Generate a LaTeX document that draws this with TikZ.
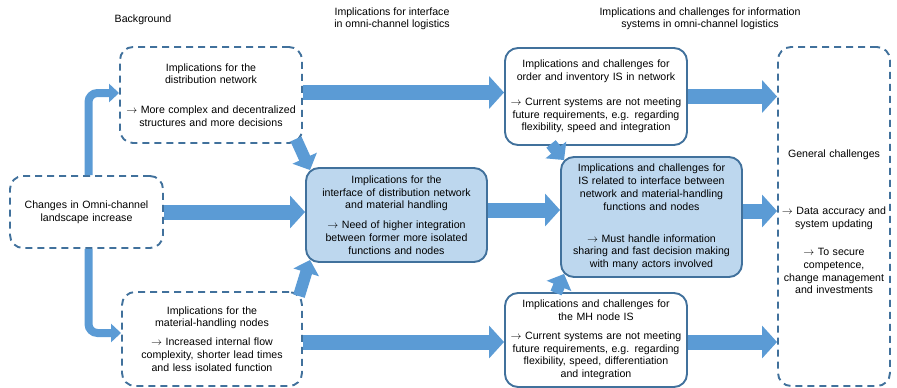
\documentclass[tikz,border=0pt]{standalone}
\usepackage{fontspec}
\setmainfont{Liberation Sans}
\usetikzlibrary{arrows.meta}
\definecolor{edgeblue}{HTML}{41719C}
\definecolor{flowblue}{HTML}{5B9BD5}
\definecolor{paleblue}{HTML}{BDD7EE}
\tikzset{
  box/.style={draw=edgeblue, line width=1.9pt, rounded corners=13pt, inner sep=0pt,
    align=center, font=\fontsize{10.6}{12.8}\selectfont},
  dashbox/.style={box, dash pattern=on 7pt off 5pt},
  heading/.style={align=center, font=\fontsize{10.6}{12}\selectfont},
  flow/.style={draw=flowblue, line width=15pt, -{Triangle[length=15pt,width=32pt]}},
  slant/.style={draw=flowblue, line width=12pt, -{Triangle[length=13pt,width=26pt]}},
  bent/.style={draw=flowblue, line width=8pt, rounded corners=9pt, -{Triangle[length=10pt,width=18pt]}}
}
\begin{document}
\begin{tikzpicture}[x=1pt, y=-1pt]
                \useasboundingbox (0,0) rectangle (897,388);
                % column headings
                \node[heading] (bgHead) at (143,20) {Background};
                \node[heading] (ifHead) at (392,19) {Implications for interface\\in omni-channel logistics};
                \node[heading] (isHead) at (700,19) {Implications and challenges for information\\systems in omni-channel logistics};

                % background
                \node[dashbox, minimum width=153pt, minimum height=72pt, text width=150pt] (change) at (86.5,212)
                    {Changes in Omni-channel\\landscape increase};
                \node[dashbox, minimum width=182pt, minimum height=96pt, text width=178pt] (dist) at (211,95)
                    {Implications for the\\distribution network\\[17pt]
                     $\rightarrow$ More complex and decentralized\\structures and more decisions};
                \node[dashbox, minimum width=180pt, minimum height=94pt, text width=178pt] (mh) at (212,339)
                    {Implications for the\\material-handling nodes\\[6pt]
                     $\rightarrow$ Increased internal flow\\complexity, shorter lead times\\and less isolated function};

                % interface
                \node[box, fill=paleblue, minimum width=181pt, minimum height=94pt, text width=178pt] (iface) at (396.5,215)
                    {Implications for the\\interface of distribution network\\and material handling\\[7pt]
                     $\rightarrow$ Need of higher integration\\between former more isolated\\functions and nodes};

                % information systems
                \node[box, fill=white, minimum width=182pt, minimum height=97pt, text width=178pt] (orderIS) at (596,96.5)
                    {Implications and challenges for\\order and inventory IS in network\\[12pt]
                     $\rightarrow$ Current systems are not meeting\\future requirements, e.g. regarding\\flexibility, speed and integration};
                \node[box, fill=paleblue, minimum width=181pt, minimum height=120pt, text width=178pt] (isIface) at (651.5,217)
                    {Implications and challenges for\\IS related to interface between\\network and material-handling\\functions and nodes\\[19pt]
                     $\rightarrow$ Must handle information\\sharing and fast decision making\\with many actors involved};
                \node[box, fill=white, minimum width=182pt, minimum height=94pt, text width=178pt] (mhIS) at (596,340)
                    {Implications and challenges for\\the MH node IS\\[6pt]
                     $\rightarrow$ Current systems are not meeting\\future requirements, e.g. regarding\\flexibility, speed, differentiation\\and integration};
                \node[dashbox, minimum width=112pt, minimum height=339pt, text width=110pt] (general) at (834,216.5)
                    {\rule{0pt}{18pt}General challenges\\[45pt]
                     $\rightarrow$ Data accuracy and\\system updating\\[15pt]
                     $\rightarrow$ To secure\\competence,\\change management\\and investments};

                % flows
                \draw[bent] ([xshift=2pt]change.north) |- ([yshift=2pt]dist.west);
                \draw[bent] ([xshift=2pt]change.south) |- ([yshift=6pt]mh.west);
                \draw[flow] (change.east) -- (change.east -| iface.west);
                \draw[flow] ([yshift=2.5pt]dist.east) -- ([yshift=2.5pt]dist.east -| orderIS.west);
                \draw[flow] ([yshift=-3pt]mh.east) -- ([yshift=-3pt]mh.east -| mhIS.west);
                \draw[flow] ([yshift=5pt]iface.east) -- ([yshift=5pt]iface.east -| isIface.west);
                \draw[flow] (orderIS.east) -- (orderIS.east -| general.west);
                \draw[flow] ([yshift=6pt]isIface.east) -- ([yshift=6pt]isIface.east -| general.west);
                \draw[flow] ([yshift=-2pt]mhIS.east) -- ([yshift=-2pt]mhIS.east -| general.west);

                \draw[slant] ([shift={(-7pt,5pt)}]dist.south east) -- ([shift={(5pt,-3pt)}]iface.north west);
                \draw[slant] ([shift={(-4pt,-5pt)}]mh.north east) -- ([shift={(5pt,3pt)}]iface.south west);
                \draw[slant] ([shift={(47pt,2pt)}]orderIS.south west) -- ([shift={(4pt,-4pt)}]isIface.north west);
                \draw[slant] ([shift={(52pt,-1pt)}]mhIS.north west) -- ([shift={(4pt,4pt)}]isIface.south west);

            \end{tikzpicture}
\end{document}
